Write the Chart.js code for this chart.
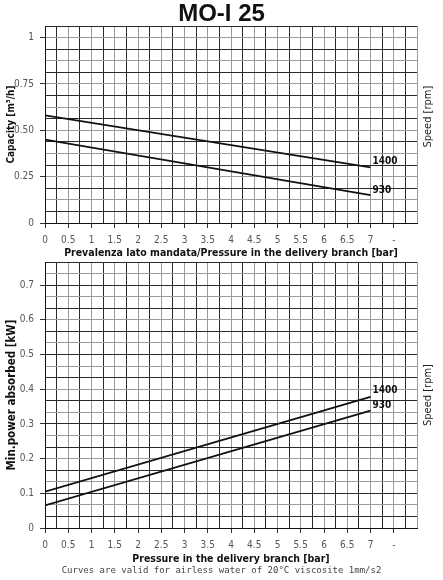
<!DOCTYPE html>
<html>
<head>
<meta charset="utf-8">
<script src="https://cdn.jsdelivr.net/npm/chart.js@4.4.1/dist/chart.umd.min.js"></script>
<style>
    html, body { margin: 0; padding: 0; background: #fff; }
    body { width: 443px; height: 580px; position: relative; overflow: hidden; }
    .box { position: absolute; left: 0; width: 443px; }
    #topBox { top: 0; height: 260px; }
    #bottomBox { top: 250px; height: 330px; }
</style>
</head>
<body>
<div class="box" id="topBox"><canvas id="capacityChart"></canvas></div>
<div class="box" id="bottomBox"><canvas id="powerChart"></canvas></div>
<script>
// pressure on the delivery branch [bar], start and end of each curve
const pressure = [0, 7];
const speeds = ['1400', '930'];

// capacity [m3/h]
const capacity1400 = [0.58, 0.30];
const capacity930 = [0.45, 0.15];

// min. power absorbed [kW]
const power1400 = [0.105, 0.378];
const power930 = [0.065, 0.338];

// tick labels
const xTickLabels = ['0', '0.5', '1', '1.5', '2', '2.5', '3', '3.5', '4', '4.5', '5', '5.5', '6', '6.5', '7', '-', ''];
const capTickLabels = ['0', '0.25', '0.50', '0.75', '1'];
const powTickLabels = ['0', '0.1', '0.2', '0.3', '0.4', '0.5', '0.6', '0.7'];

const narrow = "'Liberation Sans Narrow', 'DejaVu Sans Condensed', sans-serif";
const dark = '#2a2a2a';
const light = '#9a9a9a';

function steps(count, step) {
    const out = [];
    for (let i = 0; i <= count; i++) out.push({ value: i * step });
    return out;
}

function gridColor(ctx) {
    return ctx.index % 2 ? dark : light;
}

// writes the speed next to the end of each curve
const curveLabels = {
    id: 'curveLabels',
    afterDatasetsDraw(chart) {
        const ctx = chart.ctx;
        ctx.save();
        ctx.font = 'bold 10px ' + narrow;
        ctx.fillStyle = '#111';
        ctx.textAlign = 'left';
        ctx.textBaseline = 'bottom';
        chart.data.datasets.forEach((ds, i) => {
            const pts = chart.getDatasetMeta(i).data;
            const last = pts[pts.length - 1];
            ctx.fillText(ds.label, last.x + 2, last.y - (i === 0 ? 1 : 0));
        });
        ctx.restore();
    }
};

// right side "Speed [rpm]" reading bottom to top
const speedTitle = {
    id: 'speedTitle',
    afterDraw(chart, args, opts) {
        const a = chart.chartArea;
        const ctx = chart.ctx;
        ctx.save();
        ctx.translate(a.right + 11, a.top + (a.bottom - a.top) * opts.at);
        ctx.rotate(-Math.PI / 2);
        ctx.font = '11px ' + narrow;
        ctx.fillStyle = '#222';
        ctx.textAlign = 'center';
        ctx.textBaseline = 'middle';
        ctx.fillText('Speed [rpm]', 0, 0);
        ctx.restore();
    }
};

function makeChart(id, cfg) {
    const datasets = cfg.series.map((vals, i) => ({
        label: speeds[i],
        data: pressure.map((p, k) => ({ x: p, y: vals[k] })),
        borderColor: '#111',
        borderWidth: 1.8,
        pointRadius: 0,
        fill: false,
        tension: 0
    }));

    return new Chart(document.getElementById(id).getContext('2d'), {
        type: 'line',
        data: { datasets: datasets },
        plugins: [curveLabels, speedTitle],
        options: {
            responsive: true,
            maintainAspectRatio: false,
            animation: false,
            layout: { padding: { top: cfg.padTop, right: 0, left: 0, bottom: 0 } },
            plugins: {
                legend: { display: false },
                tooltip: { enabled: false },
                title: cfg.title,
                subtitle: cfg.subtitle,
                speedTitle: { at: cfg.speedAt }
            },
            scales: {
                x: {
                    type: 'linear',
                    min: 0,
                    max: 8,
                    afterBuildTicks: s => { s.ticks = steps(32, 0.25); },
                    afterFit: s => { s.height = cfg.xHeight; },
                    ticks: {
                        autoSkip: false,
                        maxRotation: 0,
                        padding: 6,
                        color: '#555',
                        font: { family: narrow, size: 10 },
                        callback: (v, i) => i % 2 ? '' : xTickLabels[i / 2]
                    },
                    grid: {
                        color: gridColor,
                        tickLength: 5,
                        tickColor: ctx => (ctx.index % 2 || ctx.index >= 32) ? 'rgba(0,0,0,0)' : '#333'
                    },
                    border: { color: '#111', width: 1 },
                    title: {
                        display: true,
                        text: cfg.xTitle,
                        color: '#111',
                        font: { family: narrow, size: 10.5, weight: 'bold' },
                        padding: 0
                    }
                },
                y: {
                    type: 'linear',
                    min: 0,
                    max: cfg.yMax,
                    afterBuildTicks: s => { s.ticks = steps(cfg.yCount, cfg.yStep); },
                    afterFit: s => { s.width = 45; },
                    ticks: {
                        autoSkip: false,
                        padding: 6,
                        color: '#555',
                        font: { family: narrow, size: 10 },
                        callback: (v, i) => i % cfg.yEvery ? '' : (cfg.yLabels[i / cfg.yEvery] || '')
                    },
                    grid: {
                        color: gridColor,
                        tickLength: 5,
                        tickColor: ctx => ctx.index % cfg.yEvery ? 'rgba(0,0,0,0)' : '#333'
                    },
                    border: { color: '#111', width: 1 },
                    title: {
                        display: true,
                        text: cfg.yTitle,
                        color: '#111',
                        font: { family: narrow, size: cfg.yTitleSize, weight: 'bold' },
                        padding: { top: 5, bottom: 0 }
                    }
                },
                // empty right side axis, only keeps room for "Speed [rpm]"
                yRight: {
                    type: 'linear',
                    axis: 'y',
                    position: 'right',
                    afterFit: s => { s.width = 26; },
                    ticks: { display: false },
                    grid: { display: false },
                    border: { display: false }
                }
            }
        }
    });
}

document.addEventListener('DOMContentLoaded', function() {
    makeChart('capacityChart', {
        series: [capacity1400, capacity930],
        padTop: 0,
        xHeight: 37,
        xTitle: 'Prevalenza lato mandata/Pressure in the delivery branch [bar]',
        yTitle: 'Capacity [m\u00B3/h]',
        yTitleSize: 10,
        yMax: 1.0625,
        yCount: 17,
        yStep: 0.0625,
        yEvery: 4,
        yLabels: capTickLabels,
        speedAt: 0.46,
        title: {
            display: true,
            text: 'MO-I 25',
            color: '#111',
            font: { family: "'Liberation Sans', Arial, sans-serif", size: 24, weight: 'bold', lineHeight: 1 },
            padding: { top: 2, bottom: 0 }
        },
        subtitle: { display: false }
    });

    makeChart('powerChart', {
        series: [power1400, power930],
        padTop: 2,
        xHeight: 37.2,
        xTitle: 'Pressure in the delivery branch [bar]',
        yTitle: 'Min.power absorbed [kW]',
        yTitleSize: 11.5,
        yMax: 23 / 30,
        yCount: 23,
        yStep: 1 / 30,
        yEvery: 3,
        yLabels: powTickLabels,
        speedAt: 0.5,
        title: { display: false },
        subtitle: {
            display: true,
            position: 'bottom',
            text: 'Curves are valid for airless water of 20\u00B0C viscosite 1mm/s2',
            color: '#444',
            font: { family: "'DejaVu Sans Mono', monospace", size: 9, lineHeight: 1.2 },
            padding: { top: 0, bottom: 4 }
        }
    });
});
</script>
</body>
</html>
